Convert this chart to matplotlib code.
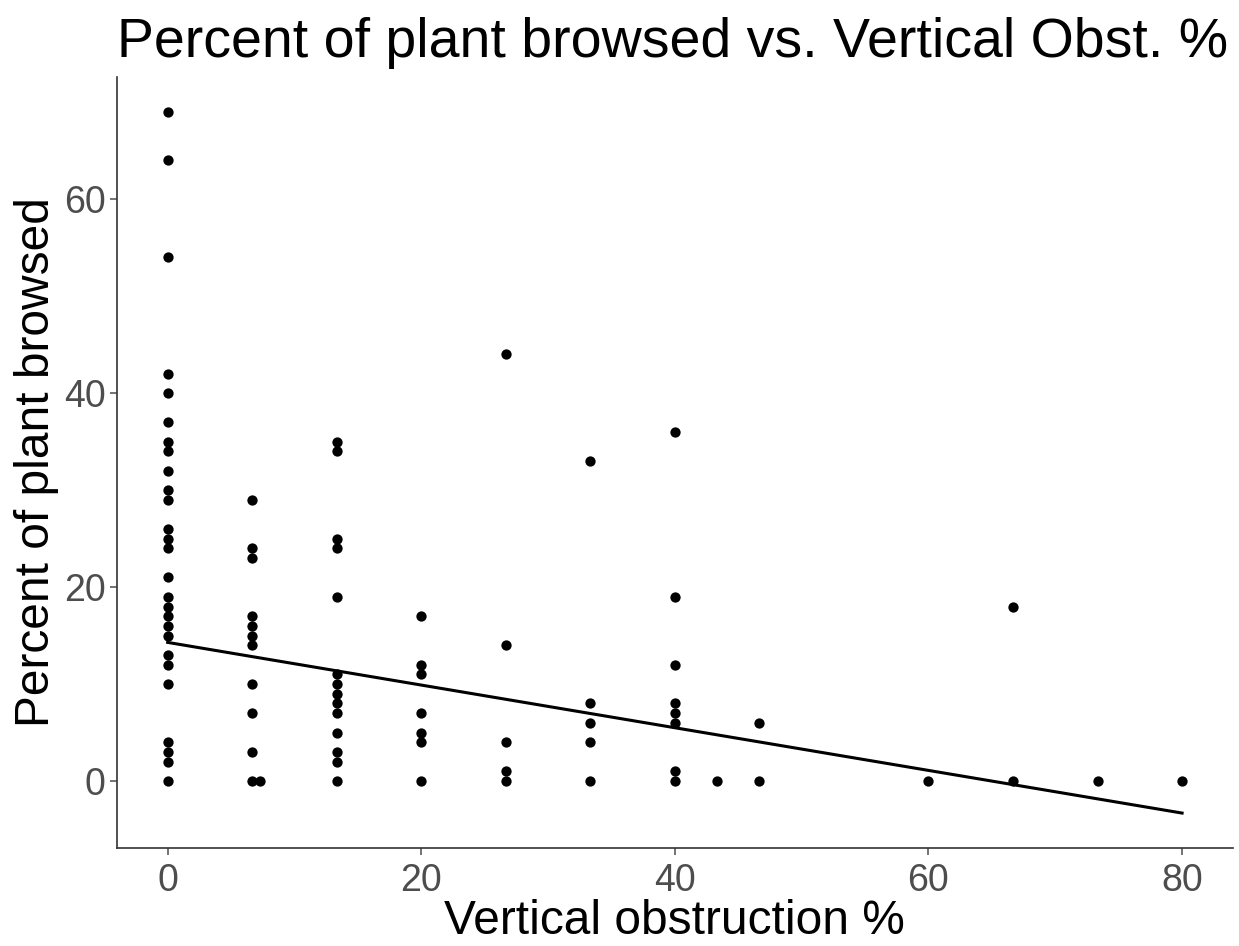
import numpy as np
import matplotlib
matplotlib.use("Agg")
import matplotlib.pyplot as plt

plt.rcParams['font.family'] = ['Liberation Sans', 'DejaVu Sans']

# Vertical obstruction % values (x) and percent browsed (y), read per column
obs_0 = [69, 64, 54, 42, 40, 37, 35, 34, 32, 30, 29, 26, 25, 24, 21, 19, 18, 17,
         16, 15, 13, 12, 10, 4, 3, 2, 0]
obs_6_67 = [29, 24, 23, 17, 16, 15, 14, 10, 7, 3, 0]
obs_7_3 = [0]
obs_13_33 = [35, 34, 25, 24, 19, 11, 10, 9, 8, 7, 5, 3, 2, 0]
obs_20 = [17, 12, 11, 7, 5, 4, 0]
obs_26_67 = [44, 14, 4, 1, 0]
obs_33_33 = [33, 8, 6, 4, 0]
obs_40 = [36, 19, 12, 8, 7, 6, 1, 0]
obs_43_33 = [0]
obs_46_67 = [6, 0]
obs_60 = [0]
obs_66_67 = [18, 0]
obs_73_33 = [0]
obs_80 = [0]

columns = [(0.0, obs_0), (6.67, obs_6_67), (7.3, obs_7_3), (13.33, obs_13_33),
           (20.0, obs_20), (26.67, obs_26_67), (33.33, obs_33_33), (40.0, obs_40),
           (43.33, obs_43_33), (46.67, obs_46_67), (60.0, obs_60),
           (66.67, obs_66_67), (73.33, obs_73_33), (80.0, obs_80)]

x = np.concatenate([[cx] * len(v) for cx, v in columns])
y = np.concatenate([v for _, v in columns]).astype(float)

# fitted line endpoints
fit_x = [0, 80]
fit_y = [14.3, -3.3]

fig = plt.figure(figsize=(12.39, 9.46), dpi=100)
ax = fig.add_axes([0.0944, 0.1036, 0.9006, 0.815])

ax.scatter(x, y, s=55, color='black', zorder=3, linewidths=0)
ax.plot(fit_x, fit_y, color='black', lw=2.2, zorder=2)

ax.set_xlim(-4, 84)
ax.set_ylim(-6.9, 72.6)
ax.set_xticks([0, 20, 40, 60, 80])
ax.set_yticks([0, 20, 40, 60])

for s in ['top', 'right']:
    ax.spines[s].set_visible(False)
for s in ['left', 'bottom']:
    ax.spines[s].set_color('#333333')
    ax.spines[s].set_linewidth(1.2)

ax.tick_params(axis='both', colors='#4D4D4D', labelsize=27, length=5, width=1.1)
ax.tick_params(axis='x', pad=6)
ax.tick_params(axis='y', pad=3)

ax.set_xlabel('Vertical obstruction %', fontsize=34.5, color='black', labelpad=0)
ax.set_ylabel('Percent of plant browsed', fontsize=34.5, color='black', labelpad=4)
fig.text(0.0944, 0.982, 'Percent of plant browsed vs. Vertical Obst. %',
         fontsize=40, color='black', ha='left', va='top')

fig.savefig('out.png', dpi=100, facecolor='white')
